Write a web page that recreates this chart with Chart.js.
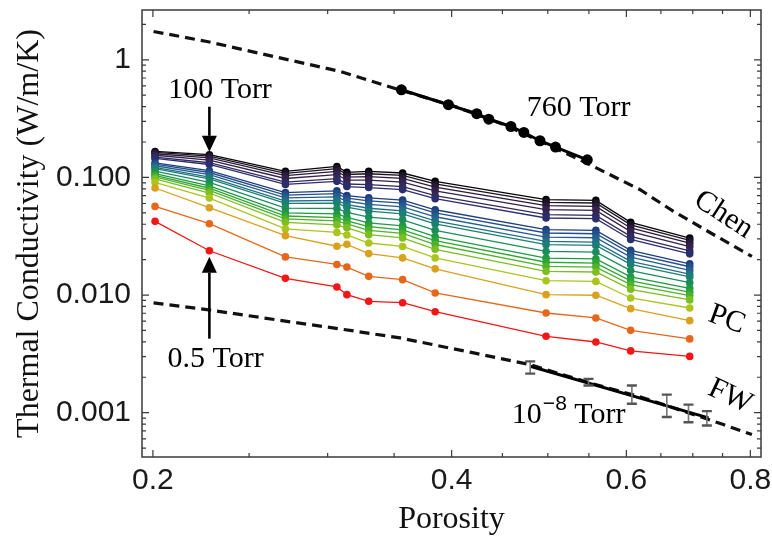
<!DOCTYPE html>
<html><head><meta charset="utf-8">
<script src="https://cdn.jsdelivr.net/npm/chart.js@4.4.1/dist/chart.umd.min.js"></script>
<style>html,body{margin:0;padding:0;background:#fff;}canvas{display:block;}</style>
</head><body>
<canvas id="c" width="772" height="537"></canvas>
<script>
// ---------------- DATA ----------------
const porosity = [0.201, 0.228, 0.272, 0.3065, 0.3137, 0.330, 0.357, 0.385, 0.498, 0.559, 0.606, 0.695];

// pressure curves, lowest (0.5 Torr) to highest (100 Torr)
const tc_red    = [0.0423, 0.0238, 0.01387, 0.01172, 0.01008, 0.00885, 0.00861, 0.00722, 0.00446, 0.00399, 0.00335, 0.00301];
const tc_orange = [0.0567, 0.0404, 0.0211, 0.0182, 0.0173, 0.01442, 0.01352, 0.01042, 0.00704, 0.00639, 0.00501, 0.00424];
const tc_gold   = [0.0813, 0.0553, 0.0320, 0.0260, 0.0270, 0.0225, 0.0207, 0.0167, 0.01008, 0.00996, 0.00766, 0.00606];
const tc_k00 = [0.0907, 0.0668, 0.0365, 0.0341, 0.0324, 0.0277, 0.0259, 0.0207, 0.01324, 0.01306, 0.00944, 0.00776];
const tc_k01 = [0.0972, 0.0737, 0.0415, 0.0395, 0.0373, 0.0326, 0.0306, 0.0245, 0.0159, 0.0157, 0.01119, 0.00909];
const tc_k02 = [0.1009, 0.0776, 0.0445, 0.0428, 0.0402, 0.0355, 0.0334, 0.0269, 0.0175, 0.0173, 0.01227, 0.00989];
const tc_k03 = [0.1040, 0.0809, 0.0470, 0.0456, 0.0427, 0.0381, 0.0358, 0.0290, 0.0190, 0.0187, 0.01319, 0.01058];
const tc_k04 = [0.1075, 0.0847, 0.0500, 0.0489, 0.0457, 0.0410, 0.0387, 0.0314, 0.0206, 0.0203, 0.01429, 0.01139];
const tc_k05 = [0.1129, 0.0908, 0.0548, 0.0544, 0.0505, 0.0460, 0.0436, 0.0355, 0.0235, 0.0232, 0.01614, 0.01275];
const tc_k06 = [0.1187, 0.0974, 0.0601, 0.0605, 0.0558, 0.0516, 0.0490, 0.0402, 0.0268, 0.0264, 0.01822, 0.01426];
const tc_k07 = [0.1217, 0.1008, 0.0630, 0.0638, 0.0587, 0.0547, 0.0520, 0.0427, 0.0286, 0.0282, 0.01936, 0.01509];
const tc_k08 = [0.1257, 0.1055, 0.0669, 0.0684, 0.0627, 0.0590, 0.0562, 0.0463, 0.0311, 0.0307, 0.0210, 0.01624];
const tc_k09 = [0.1296, 0.1101, 0.0708, 0.0729, 0.0666, 0.0633, 0.0604, 0.0499, 0.0337, 0.0332, 0.0226, 0.0174];
const tc_k10 = [0.1329, 0.1140, 0.0742, 0.0769, 0.0701, 0.0670, 0.0641, 0.0531, 0.0360, 0.0355, 0.0240, 0.0184];
const tc_k11 = [0.1450, 0.1288, 0.0872, 0.0926, 0.0836, 0.0820, 0.0788, 0.0659, 0.0452, 0.0446, 0.0297, 0.0224];
const tc_k12 = [0.1487, 0.1333, 0.0913, 0.0977, 0.0879, 0.0868, 0.0836, 0.0701, 0.0483, 0.0476, 0.0316, 0.0237];
const tc_k13 = [0.1544, 0.1405, 0.0979, 0.1058, 0.0949, 0.0947, 0.0913, 0.0769, 0.0533, 0.0525, 0.0346, 0.0258];
const tc_k14 = [0.1590, 0.1465, 0.1035, 0.1127, 0.1007, 0.1014, 0.0980, 0.0828, 0.0575, 0.0567, 0.0372, 0.0276];
const tc_k15 = [0.1630, 0.1517, 0.1083, 0.1189, 0.1059, 0.1074, 0.1039, 0.0880, 0.0614, 0.0606, 0.0395, 0.0292];
const tc_k16 = [0.1663, 0.1560, 0.1125, 0.1240, 0.1103, 0.1125, 0.1090, 0.0925, 0.0647, 0.0638, 0.0415, 0.0305];

// 760 Torr measurements
const atm_porosity = [0.356, 0.397, 0.424, 0.436, 0.459, 0.473, 0.491, 0.509, 0.548];
const atm_tc       = [0.556, 0.415, 0.348, 0.313, 0.271, 0.241, 0.205, 0.181, 0.141];

// Chen model (dashed)
const chen_porosity = [0.2003, 0.2267, 0.2646, 0.3089, 0.3495, 0.40, 0.45, 0.50, 0.5559, 0.6195, 0.6693, 0.740, 0.8029];
const chen_tc       = [1.740, 1.431, 1.067, 0.796, 0.575, 0.41, 0.285, 0.19, 0.124, 0.0786, 0.0514, 0.0315, 0.0213];

// FW model (dashed)
const fw_porosity = [0.2003, 0.2267, 0.2729, 0.3089, 0.355, 0.4209, 0.48, 0.55, 0.62, 0.69, 0.7516, 0.8029];
const fw_tc       = [0.00857, 0.00752, 0.00598, 0.00515, 0.00432, 0.00322, 0.00256, 0.00180, 0.00136, 0.00101, 0.000792, 0.000652];

// 10^-8 Torr: fit line and error bars
const vac_fit_porosity = [0.48, 0.7259];
const vac_fit_tc       = [0.00248, 0.000904];
const vac_porosity = [0.48, 0.5495, 0.6077, 0.659, 0.693, 0.7232];
const vac_low      = [0.00215, 0.00170, 0.00119, 0.00092, 0.00083, 0.000777];
const vac_high     = [0.00273, 0.00194, 0.00170, 0.001425, 0.00117, 0.00103];

// axis ticks
const xTickValues = [0.2, 0.4, 0.6, 0.8];
const xTickLabels = ['0.2', '0.4', '0.6', '0.8'];
const xMinorTicks = [0.25, 0.3, 0.35, 0.45, 0.5, 0.55, 0.65, 0.7, 0.75];
const yTickValues = [0.001, 0.01, 0.1, 1];
const yTickLabels = ['0.001', '0.010', '0.100', '1'];

// ---------------- STYLE ----------------
const pressureSeries = [tc_red, tc_orange, tc_gold, tc_k00, tc_k01, tc_k02, tc_k03, tc_k04, tc_k05, tc_k06,
  tc_k07, tc_k08, tc_k09, tc_k10, tc_k11, tc_k12, tc_k13, tc_k14, tc_k15, tc_k16];
const pressureColors = ['#f31616', '#e8661c', '#d9a21e', '#abc51e', '#7cbd22', '#4fb22a', '#2ea636', '#1e9a44',
  '#1c8c5c', '#1d7f74', '#226f86', '#245f8e', '#234e8a', '#1f3e7e', '#2b2e6c', '#33285c', '#34214c', '#2a1a3a',
  '#1b1222', '#050505'];

const SERIF = '"Liberation Serif", "Times New Roman", serif';
const SANS = '"Liberation Sans", Arial, sans-serif';

const toXY = (xs, ys) => xs.map((x, i) => ({x: x, y: ys[i]}));

const datasets = [];
pressureSeries.forEach((s, i) => {
  datasets.push({
    data: toXY(porosity, s), showLine: true, borderColor: pressureColors[i], backgroundColor: pressureColors[i],
    borderWidth: 1.3, pointRadius: 3.8, pointBorderWidth: 0, pointBackgroundColor: pressureColors[i], order: 5
  });
});
datasets.push({data: toXY(chen_porosity, chen_tc), showLine: true, borderColor: '#111', borderWidth: 3.2,
  borderDash: [10, 6], pointRadius: 0, order: 3});
datasets.push({data: toXY(fw_porosity, fw_tc), showLine: true, borderColor: '#111', borderWidth: 3.2,
  borderDash: [10, 6], pointRadius: 0, order: 3});
datasets.push({data: toXY(atm_porosity, atm_tc), showLine: true, borderColor: '#000', backgroundColor: '#000',
  borderWidth: 3, pointRadius: 5.5, pointBackgroundColor: '#000', pointBorderWidth: 0, order: 1});
datasets.push({data: toXY(vac_fit_porosity, vac_fit_tc), showLine: true, borderColor: '#000', borderWidth: 3,
  pointRadius: 0, order: 1});

const annotations = {
  texts: [
    {text: '100 Torr', x: 0.2072, y: 0.4755, align: 'left', baseline: 'alphabetic', rot: 0},
    {text: '760 Torr', x: 0.4763, y: 0.33, align: 'left', baseline: 'alphabetic', rot: 0},
    {text: '0.5 Torr', x: 0.2069, y: 0.00245, align: 'left', baseline: 'alphabetic', rot: 0},
    {text: 'Chen', x: 0.7516, y: 0.0482, align: 'center', baseline: 'middle', rot: 33},
    {text: 'PC', x: 0.7575, y: 0.00618, align: 'center', baseline: 'middle', rot: 20},
    {text: 'FW', x: 0.7633, y: 0.001378, align: 'center', baseline: 'middle', rot: 25}
  ],
  arrows: [
    {x: 0.228, from: 0.399, to: 0.165},
    {x: 0.228, from: 0.00426, to: 0.0212}
  ],
  sup: {base: '10', sup: '\u22128', tail: ' Torr', x: 0.46, y: 0.000819}
};

const decorPlugin = {
  id: 'decor',
  afterDatasetsDraw(chart) {
    const ctx = chart.ctx, xs = chart.scales.x, ys = chart.scales.y;
    ctx.save();
    // error bars
    vac_porosity.forEach((p, i) => {
      const px = xs.getPixelForValue(p);
      const y1 = ys.getPixelForValue(vac_low[i]);
      const y2 = ys.getPixelForValue(vac_high[i]);
      ctx.strokeStyle = '#777';
      ctx.lineWidth = 1.6;
      ctx.beginPath(); ctx.moveTo(px, y1); ctx.lineTo(px, y2); ctx.stroke();
      ctx.strokeStyle = '#555';
      ctx.lineWidth = 2.4;
      ctx.beginPath();
      ctx.moveTo(px - 5, y1); ctx.lineTo(px + 5, y1);
      ctx.moveTo(px - 5, y2); ctx.lineTo(px + 5, y2);
      ctx.stroke();
    });
    ctx.restore();
  },
  afterDraw(chart) {
    const ctx = chart.ctx, xs = chart.scales.x, ys = chart.scales.y, a = chart.chartArea;
    ctx.save();
    // frame
    ctx.strokeStyle = '#3a3a3a';
    ctx.lineWidth = 1.5;
    ctx.strokeRect(a.left, a.top, a.right - a.left, a.bottom - a.top);
    ctx.lineWidth = 1.2;
    const tickX = (v, len) => {
      const px = xs.getPixelForValue(v);
      ctx.beginPath();
      ctx.moveTo(px, a.bottom); ctx.lineTo(px, a.bottom - len);
      ctx.moveTo(px, a.top); ctx.lineTo(px, a.top + len);
      ctx.stroke();
    };
    const tickY = (v, len) => {
      const py = ys.getPixelForValue(v);
      if (py < a.top || py > a.bottom) return;
      ctx.beginPath();
      ctx.moveTo(a.left, py); ctx.lineTo(a.left + len, py);
      ctx.moveTo(a.right, py); ctx.lineTo(a.right - len, py);
      ctx.stroke();
    };
    xTickValues.forEach(v => tickX(v, 7));
    xMinorTicks.forEach(v => tickX(v, 4));
    yTickValues.forEach(v => tickY(v, 7));
    [0.0001, 0.001, 0.01, 0.1, 1].forEach(d => {
      for (let m = 2; m <= 9; m++) tickY(m * d, 4);
    });
    // arrows
    ctx.fillStyle = '#000';
    ctx.strokeStyle = '#000';
    annotations.arrows.forEach(ar => {
      const px = xs.getPixelForValue(ar.x);
      const y0 = ys.getPixelForValue(ar.from);
      const y1 = ys.getPixelForValue(ar.to);
      const dir = y1 > y0 ? 1 : -1;
      const head = 16;
      ctx.lineWidth = 2.6;
      ctx.beginPath(); ctx.moveTo(px, y0); ctx.lineTo(px, y1 - dir * head); ctx.stroke();
      ctx.beginPath();
      ctx.moveTo(px, y1);
      ctx.lineTo(px - 7.5, y1 - dir * head);
      ctx.lineTo(px + 7.5, y1 - dir * head);
      ctx.closePath(); ctx.fill();
    });
    // text labels
    ctx.font = '30px ' + SERIF;
    annotations.texts.forEach(t => {
      const px = xs.getPixelForValue(t.x), py = ys.getPixelForValue(t.y);
      ctx.save();
      ctx.translate(px, py);
      ctx.rotate(t.rot * Math.PI / 180);
      ctx.textAlign = t.align;
      ctx.textBaseline = t.baseline;
      ctx.fillText(t.text, 0, 0);
      ctx.restore();
    });
    const s = annotations.sup;
    let px = xs.getPixelForValue(s.x);
    const py = ys.getPixelForValue(s.y);
    ctx.textAlign = 'left';
    ctx.textBaseline = 'alphabetic';
    ctx.font = '30px ' + SERIF;
    ctx.fillText(s.base, px, py);
    px += ctx.measureText(s.base).width + 1;
    ctx.font = '21px ' + SANS;
    ctx.fillText(s.sup, px, py - 13);
    px += ctx.measureText(s.sup).width;
    ctx.font = '30px ' + SERIF;
    ctx.fillText(s.tail, px, py);
    ctx.restore();
  }
};

new Chart(document.getElementById('c'), {
  type: 'scatter',
  data: {datasets: datasets},
  options: {
    responsive: false,
    animation: false,
    devicePixelRatio: 1,
    layout: {padding: {top: 10, right: 11, left: 0, bottom: 0}},
    plugins: {legend: {display: false}, tooltip: {enabled: false}},
    elements: {line: {tension: 0}},
    scales: {
      x: {
        type: 'logarithmic', min: 0.195, max: 0.82,
        grid: {display: false, drawTicks: false},
        border: {display: false},
        afterBuildTicks: (sc) => { sc.ticks = xTickValues.map(v => ({value: v})); },
        afterFit: (sc) => { sc.height = 80; sc.paddingLeft = 0; sc.paddingRight = 0; },
        ticks: {
          autoSkip: false, maxRotation: 0, padding: 6, color: '#1a1a1a',
          font: {family: SANS, size: 30},
          callback: (v, i) => xTickLabels[i]
        },
        title: {display: true, text: 'Porosity', color: '#111', font: {family: SERIF, size: 32, lineHeight: 1}, padding: {top: 0, bottom: 1}}
      },
      y: {
        type: 'logarithmic', min: 0.00042, max: 2.65,
        grid: {display: false, drawTicks: false},
        border: {display: false},
        afterBuildTicks: (sc) => { sc.ticks = yTickValues.map(v => ({value: v})); },
        afterFit: (sc) => { sc.width = 142; sc.paddingTop = 0; sc.paddingBottom = 0; },
        ticks: {
          autoSkip: false, padding: 11, color: '#1a1a1a',
          font: {family: SANS, size: 30},
          callback: (v, i) => yTickLabels[i]
        },
        title: {display: true, text: 'Thermal Conductivity (W/m/K)', color: '#111', font: {family: SERIF, size: 32, lineHeight: 1}, padding: {top: 14, bottom: 0}}
      }
    }
  },
  plugins: [decorPlugin]
});
</script>
</body></html>
